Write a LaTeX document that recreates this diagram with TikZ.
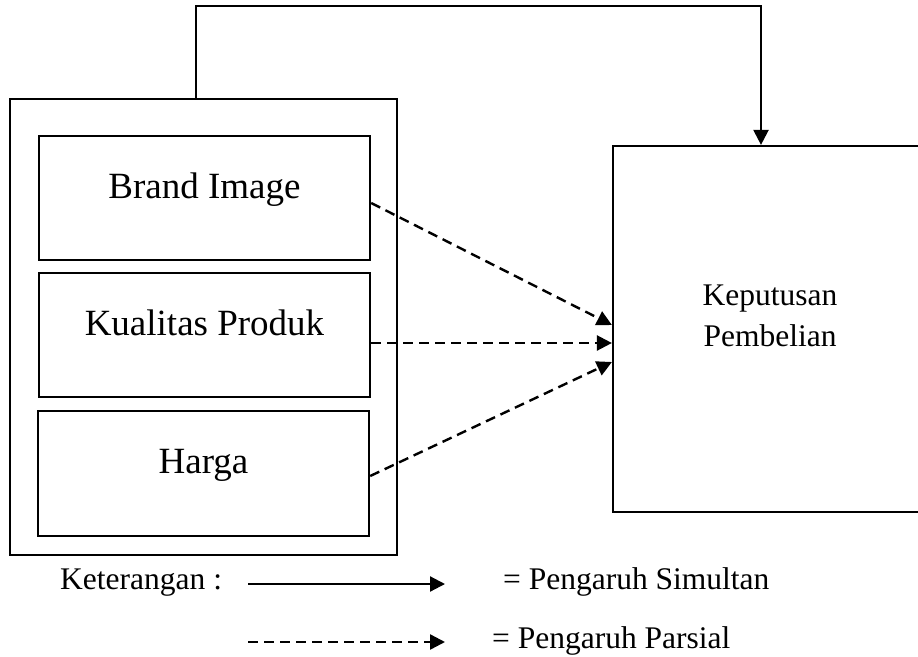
\documentclass[tikz,border=0pt]{standalone}
\usepackage{fontspec}
\setmainfont{Liberation Serif}
\usetikzlibrary{arrows.meta,calc}
\begin{document}
\begin{tikzpicture}[x=1pt,y=-1pt,
  inbox/.style={draw,line width=2.4pt,minimum width=331pt,minimum height=124pt,inner sep=0pt,
    text height=24pt,text depth=24pt,font=\fontsize{37}{44}\selectfont},
  dasharrow/.style={line width=2.4pt,dash pattern=on 10pt off 6pt,-{Triangle[length=15pt,width=15pt]}},
  solidarrow/.style={line width=2.2pt,-{Triangle[length=15pt,width=15pt]}},
  lbl/.style={font=\fontsize{31.5}{41}\selectfont,inner sep=0pt}]
\useasboundingbox (0,0) rectangle (918,656);
% boxes
\node[draw,line width=1.6pt,minimum width=387pt,minimum height=456pt,inner sep=0pt] (outer) at (203.5,327) {};
\node[inbox] (brand) at (204.5,198) {Brand Image};
\node[inbox] (kual) at (204.5,335) {Kualitas Produk};
\node[inbox,minimum height=125pt] (harga) at (203.5,473.5) {Harga};
\node[draw,line width=2.2pt,minimum width=314pt,minimum height=366pt,inner sep=0pt] (kp) at (770,329) {};
\node[lbl,align=center] (kptxt) at (770,316) {Keputusan\\Pembelian};
% simultaneous connector
\coordinate (tl) at (196,6);
\coordinate (tr) at (761,6);
\draw[solidarrow] (tl |- outer.north) -- (tl) -- (tr) -- (tr |- kp.north);
% partial connectors
\draw[dasharrow] ($(brand.east)+(0,5)$) -- ($(kp.west)+(0,-4)$);
\draw[dasharrow] ($(kual.east)+(0,8)$) -- ($(kp.west)+(0,14)$);
\draw[dasharrow] ($(harga.east)+(0,2.5)$) -- ($(kp.west)+(0,33)$);
% legend
\node[lbl,anchor=base west] (ket) at (60,589) {Keterangan :};
\coordinate (s1) at (248,584);
\coordinate (s2) at (445,584);
\draw[solidarrow] (s1) -- (s2);
\node[lbl,anchor=base west] (sim) at (503,589) {= Pengaruh Simultan};
\coordinate (d1) at (248,642);
\coordinate (d2) at (445,642);
\draw[dasharrow] (d1) -- (d2);
\node[lbl,anchor=base west] (par) at (492,648) {= Pengaruh Parsial};
\end{tikzpicture}
\end{document}
